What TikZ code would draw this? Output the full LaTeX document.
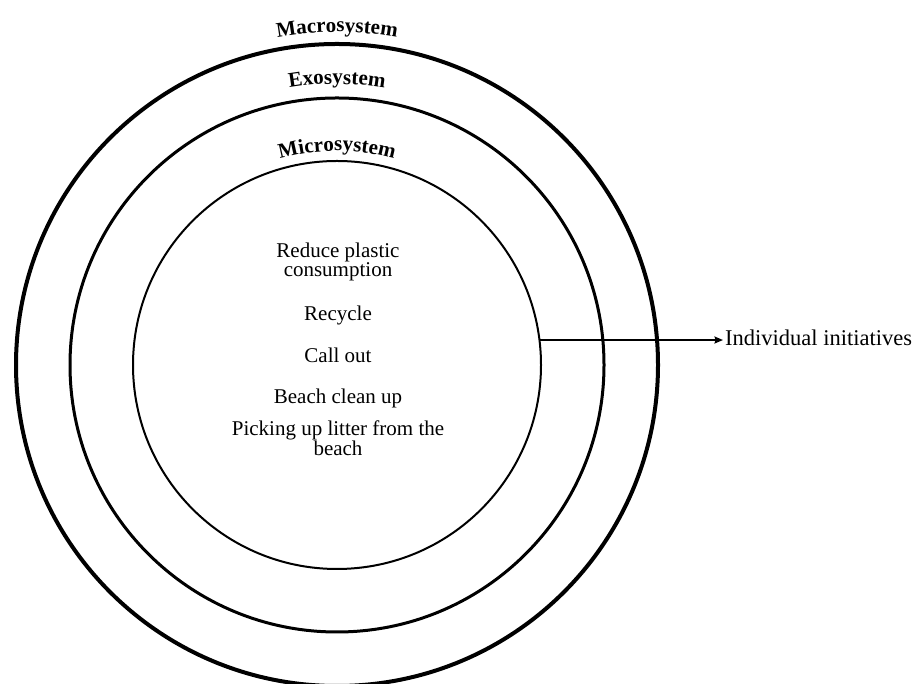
\documentclass[tikz,border=0pt]{standalone}
\usepackage{fontspec}
\setmainfont{Liberation Serif}
\usetikzlibrary{decorations.text,arrows.meta}
\begin{document}
\begin{tikzpicture}[x=1pt,y=1pt,
  ring/.style={draw, circle, inner sep=0pt},
  item/.style={font=\fontsize{21}{17.5}\selectfont, align=center, anchor=base, inner sep=0pt},
  arclabel/.style={decorate, decoration={text along path, text align=center,
    text={|\fontsize{21}{24}\selectfont\bfseries|#1}}}
]
\useasboundingbox (0,0) rectangle (915,684);
\coordinate (c) at (337,319);

% three nested systems
\node[ring, minimum size=642pt, line width=4pt] (macro) at (c) {};
\node[ring, minimum size=534pt, line width=3pt] (exo) at (c) {};
\node[ring, minimum size=408pt, line width=2pt] (micro) at (c) {};

% curved titles above each ring
\path[arclabel=Macrosystem] ([shift={(115:333pt)}]c) arc[start angle=115, end angle=65, radius=333pt];
\path[arclabel=Exosystem] ([shift={(115:281pt)}]c) arc[start angle=115, end angle=65, radius=281pt];
\path[arclabel=Microsystem] ([shift={(120:214pt)}]c) arc[start angle=120, end angle=60, radius=214pt];

% initiatives inside the microsystem (base = baseline of the last line)
\node[item] (reduce) at (338,407.3) {Reduce plastic\\consumption};
\node[item] (recycle) at (338,363.3) {Recycle};
\node[item] (callout) at (338,321.3) {Call out};
\node[item] (clean) at (338,280.7) {Beach clean up};
\node[item, font=\fontsize{21}{20.5}\selectfont] (litter) at (338,228) {Picking up litter from the\\beach};

% outgoing label
\node[anchor=west, inner sep=2pt, font=\fontsize{22.5}{26}\selectfont] (ind) at (723,346) {Individual initiatives};
\draw[line width=1.7pt, -{Stealth[length=8.5pt,width=7pt,inset=1pt]}] (micro.7.5) -- (micro.7.5 -| ind.west);
\end{tikzpicture}
\end{document}
